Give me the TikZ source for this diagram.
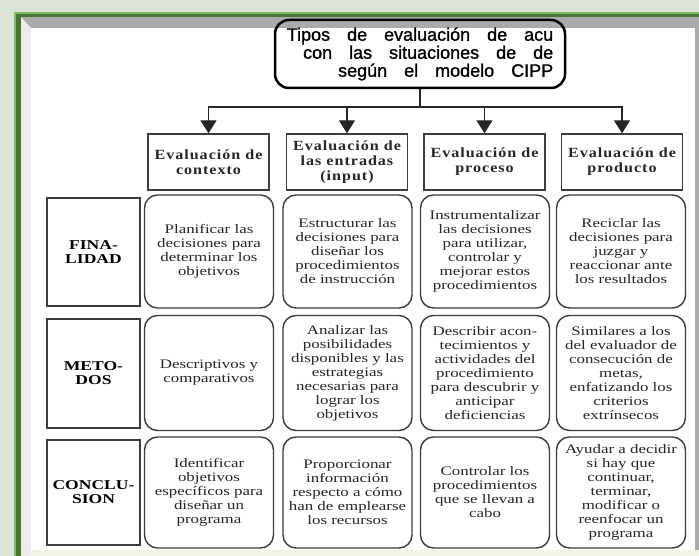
\documentclass[tikz,border=0pt]{standalone}
\usepackage{fontspec}
\setmainfont{Liberation Serif}[FakeStretch=1.3]
\newfontfamily\headfont{Liberation Serif}[FakeStretch=1.15,LetterSpace=7]
\newfontfamily\titlefont{Liberation Sans}[FakeBold=1.2]
\newcommand{\titlespace}{\spaceskip 17pt\relax}
\usepackage{tikz}
\usetikzlibrary{shapes,arrows.meta,positioning}
\definecolor{glowbg}{RGB}{220,228,216}
\definecolor{lightgreen}{RGB}{126,186,96}
\definecolor{darkgreen}{RGB}{70,120,50}
\definecolor{bevelgray}{RGB}{170,170,170}
\definecolor{bevellight}{RGB}{236,236,236}
\definecolor{bottomcream}{RGB}{240,244,228}
\definecolor{boxline}{RGB}{60,60,60}
\tikzstyle{titlebox} = [rectangle, draw, rounded corners=14pt, line width=2.5pt,
    minimum width=290pt, minimum height=68pt, inner xsep=8pt, align=right,
    font={\titlefont\fontsize{18}{18}\selectfont\titlespace}]
\tikzstyle{headblock} = [rectangle, draw=boxline, line width=1.4pt, inner sep=0pt,
    minimum width=121pt, minimum height=56pt, align=center, text=black!85,
    font={\headfont\bfseries\fontsize{14}{15}\selectfont}]
\tikzstyle{rowblock} = [rectangle, draw=boxline, line width=1.4pt, inner sep=0pt,
    minimum width=93pt, align=center,
    font={\bfseries\fontsize{13.5}{14}\selectfont}]
\tikzstyle{cellblock} = [rectangle, draw=boxline, rounded corners=13pt, line width=1.4pt,
    inner sep=0pt, minimum width=129pt, align=center, text=black!85,
    font={\fontsize{13}{14}\selectfont}]
\tikzstyle{line} = [draw, line width=1.2pt, black!85]
\tikzstyle{arrow} = [line, -{Triangle[width=16pt,length=13pt]}]

\begin{document}
\begin{tikzpicture}[x=1pt,y=-1pt]
	\useasboundingbox (0,0) rectangle (699,556);
	% Frame
	\fill[glowbg] (0,0) rectangle (699,556);
	\fill[lightgreen] (14,12) rectangle (699,556);
	\fill[darkgreen] (16,14) rectangle (699,556);
	\fill[bevelgray] (21,17) rectangle (699,556);
	\fill[bevellight] (21,17) -- (31,28) -- (31,556) -- (21,556) -- cycle;
	\fill[white] (31,28) rectangle (695,550);
	\fill[bottomcream] (31,550) rectangle (699,556);

	% Title and heads
	\node[titlebox] (title) at (420,54) {Tipos de evaluación de acu\\con las situaciones de de\\según el modelo CIPP};
	\node[headblock] (ctx) at (208.5,162) {Evaluación de\\contexto};
	\node[headblock] (inp) at (347,162) {Evaluación de\\las entradas\\(input)};
	\node[headblock] (pro) at (484.5,162) {Evaluación de\\proceso};
	\node[headblock] (prd) at (622,162) {Evaluación de\\producto};

	\coordinate (split) at (420,107);
	\draw[line] (title.south) -- (split);
	\draw[arrow] (split) -| (ctx.north);
	\draw[arrow] (split) -| (inp.north);
	\draw[arrow] (split) -| (pro.north);
	\draw[arrow] (split) -| (prd.north);

	% Row labels
	\node[rowblock, minimum height=108pt] (fin) at (93.5,252) {FINA-\\LIDAD};
	\node[rowblock, minimum height=109pt] (met) at (93.5,373.5) {METO-\\DOS};
	\node[rowblock, minimum height=105pt] (con) at (93.5,492.5) {CONCLU-\\SION};

	% Finalidad
	\node[cellblock, minimum height=113pt] (fin1) at (209,251.5) {Planificar las\\decisiones para\\determinar los\\objetivos};
	\node[cellblock, minimum height=113pt] (fin2) at (347.5,251.5) {Estructurar las\\decisiones para\\diseñar los\\procedimientos\\de instrucción};
	\node[cellblock, minimum height=113pt] (fin3) at (485,251.5) {Instrumentalizar\\las decisiones\\para utilizar,\\controlar y\\mejorar estos\\procedimientos};
	\node[cellblock, minimum height=113pt] (fin4) at (621,251.5) {Reciclar las\\decisiones para\\juzgar y\\reaccionar ante\\los resultados};

	% Metodos
	\node[cellblock, minimum height=115pt] (met1) at (209,373) {Descriptivos y\\comparativos};
	\node[cellblock, minimum height=115pt] (met2) at (347.5,373) {Analizar las\\posibilidades\\disponibles y las\\estrategias\\necesarias para\\lograr los\\objetivos};
	\node[cellblock, minimum height=115pt] (met3) at (485,373) {Describir acon-\\tecimientos y\\actividades del\\procedimiento\\para descubrir y\\anticipar\\deficiencias};
	\node[cellblock, minimum height=115pt] (met4) at (621,373) {Similares a los\\del evaluador de\\consecución de\\metas,\\enfatizando los\\criterios\\extrínsecos};

	% Conclusion
	\node[cellblock, minimum height=111pt] (con1) at (209,492.5) {Identificar\\objetivos\\específicos para\\diseñar un\\programa};
	\node[cellblock, minimum height=111pt] (con2) at (347.5,492.5) {Proporcionar\\información\\respecto a cómo\\han de emplearse\\los recursos};
	\node[cellblock, minimum height=111pt] (con3) at (485,492.5) {Controlar los\\procedimientos\\que se llevan a\\cabo};
	\node[cellblock, minimum height=111pt] (con4) at (621,492.5) {Ayudar a decidir\\si hay que\\continuar,\\terminar,\\modificar o\\reenfocar un\\programa};
\end{tikzpicture}
\end{document}
